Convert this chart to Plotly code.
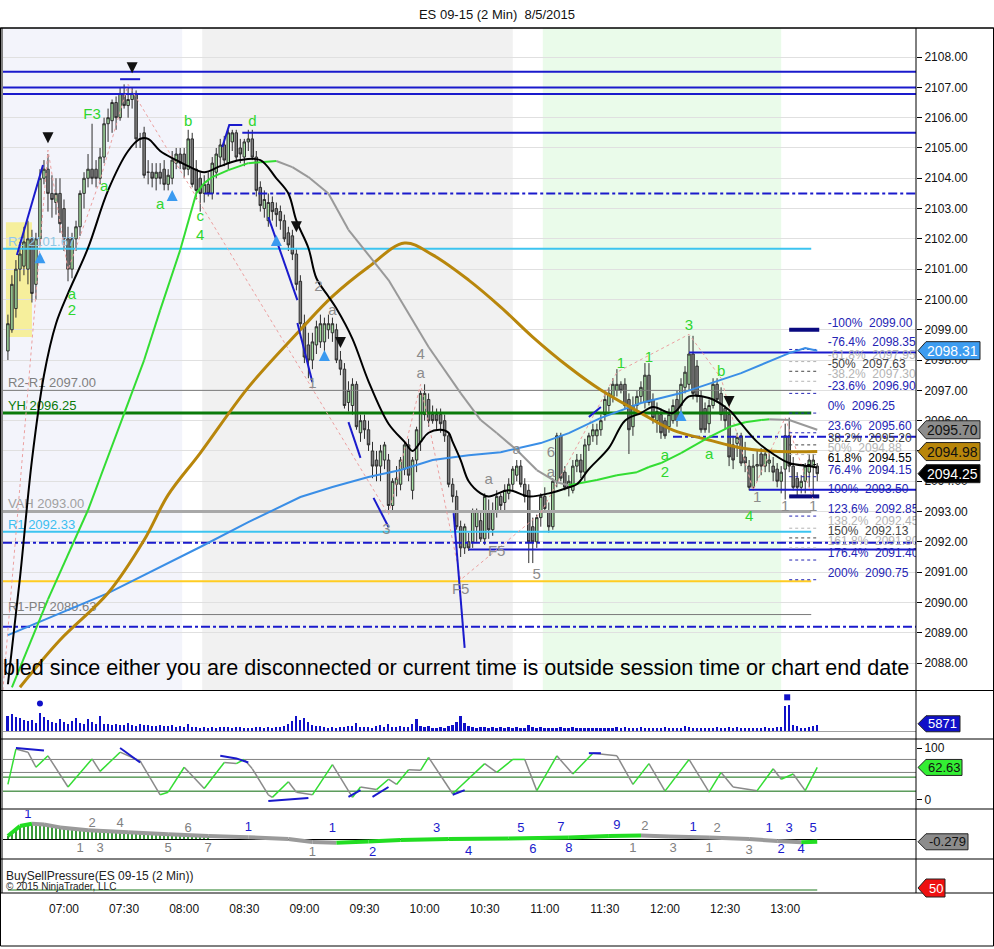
import plotly.graph_objects as go
from datetime import datetime, timedelta

# ---------------- data ----------------
opens = [2098.3,2099.0,2099.7,2101.0,2101.1,2101.0,2102.0,2100.5,2102.0,2104.0,
2104.3,2103.5,2103.2,2103.5,2103.0,2102.0,2101.0,2102.0,2102.4,2103.5,
2104.0,2104.3,2104.3,2104.0,2104.7,2105.8,2105.9,2106.5,2106.0,2106.8,
2106.4,2106.6,2106.8,2105.3,2105.5,2104.2,2104.2,2104.0,2104.2,2104.3,
2103.8,2104.0,2104.5,2104.8,2104.8,2104.3,2105.3,2104.3,2104.0,2103.5,
2103.8,2103.5,2104.2,2104.7,2105.1,2104.5,2105.2,2105.5,2105.0,2104.7,
2105.2,2105.3,2104.7,2103.7,2103.0,2102.6,2103.2,2103.0,2102.9,2102.6,
2102.2,2102.1,2101.5,2100.6,2099.2,2098.5,2098.0,2098.5,2098.6,2098.6,
2099.0,2098.9,2099.0,2098.0,2097.7,2096.6,2096.5,2097.2,2095.6,2096.0,
2095.7,2095.0,2094.7,2094.5,2094.7,2094.7,2093.2,2093.9,2093.9,2094.4,
2095.2,2093.7,2094.7,2095.3,2096.2,2096.7,2096.2,2096.2,2096.2,2096.0,
2095.5,2093.9,2093.5,2092.5,2091.8,2092.0,2092.0,2092.5,2092.7,2092.1,
2093.0,2092.4,2093.0,2093.5,2093.3,2093.6,2093.9,2094.2,2094.5,2093.9,
2093.7,2092.5,2092.0,2092.8,2093.5,2093.0,2092.5,2094.0,2095.5,2094.3,
2093.8,2093.7,2094.5,2094.7,2094.3,2095.2,2095.5,2095.5,2095.7,2096.2,
2096.5,2096.8,2097.0,2097.2,2097.2,2096.7,2095.8,2096.5,2096.8,2096.6,
2097.5,2096.7,2096.0,2096.2,2096.0,2095.8,2096.0,2096.7,2096.5,2097.1,
2097.2,2098.2,2097.8,2096.8,2096.4,2095.9,2096.5,2097.2,2096.9,2096.4,
2096.2,2095.2,2095.25,2095.5,2094.8,2094.5,2093.8,2094.5,2094.9,2094.5,
2094.6,2094.5,2094.4,2094.0,2094.4,2095.5,2094.5,2094.1,2093.8,2094.0,
2094.3,2094.5,2094.5]
highs = [2099.5,2100.8,2101.3,2101.9,2102.4,2102.6,2102.3,2102.2,2104.3,2104.6,
2104.8,2104.1,2104.0,2104.0,2103.3,2102.4,2102.2,2102.6,2103.6,2104.2,
2104.8,2105.8,2104.6,2105.0,2106.0,2106.3,2106.6,2106.7,2107.0,2107.1,
2107.0,2107.0,2106.9,2105.5,2105.7,2104.6,2104.5,2104.5,2104.5,2104.6,
2104.3,2104.9,2105.0,2105.0,2105.0,2105.6,2105.5,2104.6,2104.2,2104.1,
2104.2,2104.7,2105.0,2105.3,2105.4,2105.6,2105.6,2105.6,2105.3,2105.3,
2105.6,2105.6,2104.9,2103.9,2103.6,2103.5,2103.4,2103.2,2103.1,2102.8,
2102.4,2102.3,2101.7,2100.8,2099.5,2098.9,2098.9,2099.3,2099.5,2099.4,
2099.5,2099.4,2099.2,2098.3,2097.9,2097.3,2097.4,2097.3,2096.2,2096.2,
2096.0,2095.3,2095.0,2095.2,2095.3,2094.9,2094.1,2094.5,2094.8,2095.3,
2095.4,2094.8,2095.8,2097.0,2097.2,2096.9,2096.5,2096.4,2096.4,2096.2,
2095.6,2094.1,2093.7,2092.7,2092.6,2092.3,2093.1,2093.1,2093.0,2093.6,
2093.4,2093.3,2093.7,2093.6,2093.9,2094.1,2094.5,2094.7,2094.7,2094.1,
2093.9,2092.8,2092.9,2093.6,2093.8,2093.3,2094.1,2095.6,2095.6,2094.5,
2094.2,2094.7,2094.9,2094.9,2095.4,2095.6,2095.9,2095.9,2096.2,2096.9,
2097.1,2097.4,2097.7,2097.3,2097.4,2096.9,2096.8,2097.0,2097.3,2097.9,
2097.9,2096.9,2096.6,2096.4,2096.1,2096.4,2096.7,2097.0,2097.4,2097.8,
2098.8,2098.8,2098.0,2097.0,2096.6,2096.7,2097.4,2097.4,2097.1,2096.5,
2096.3,2095.5,2095.6,2095.6,2095.3,2094.7,2094.9,2095.0,2095.1,2095.1,
2095.0,2094.8,2094.6,2094.5,2095.9,2096.1,2094.8,2094.3,2094.2,2094.6,
2094.9,2094.9,2094.6]
lows = [2098.0,2098.9,2099.4,2100.6,2100.8,2100.5,2099.9,2100.0,2101.8,2103.8,
2102.9,2102.7,2102.8,2102.2,2101.6,2100.6,2100.7,2101.6,2102.1,2103.0,
2103.7,2103.8,2103.7,2103.8,2104.5,2105.2,2105.5,2105.6,2105.9,2106.3,
2106.0,2106.3,2105.0,2105.0,2104.0,2103.8,2103.7,2103.6,2103.8,2103.6,
2103.6,2103.8,2104.3,2104.3,2104.0,2104.1,2103.7,2103.3,2102.9,2103.2,
2103.4,2103.3,2104.0,2104.4,2104.4,2104.3,2104.9,2104.6,2104.5,2104.4,
2104.9,2104.6,2103.4,2102.9,2102.7,2102.4,2102.6,2102.4,2102.3,2101.9,
2101.6,2101.3,2100.3,2099.0,2097.9,2097.4,2097.7,2098.2,2098.4,2098.3,
2098.7,2098.6,2097.9,2097.5,2096.4,2096.3,2096.2,2095.7,2095.3,2095.4,
2095.0,2094.1,2094.0,2094.0,2094.4,2093.0,2093.0,2093.5,2093.7,2094.2,
2094.0,2093.4,2094.3,2095.0,2096.0,2095.8,2095.9,2095.7,2095.6,2095.3,
2093.8,2093.3,2092.4,2091.5,2091.6,2091.7,2091.8,2092.0,2092.0,2091.9,
2092.1,2092.2,2092.8,2093.0,2093.0,2093.4,2093.7,2094.0,2093.8,2093.3,
2091.3,2091.3,2091.8,2092.5,2093.0,2092.3,2092.4,2093.8,2094.0,2093.7,
2093.5,2093.6,2094.3,2094.1,2094.0,2095.0,2095.3,2095.2,2095.5,2096.0,
2096.3,2096.6,2096.8,2096.9,2096.4,2094.9,2095.5,2096.3,2096.6,2096.4,
2096.5,2095.9,2095.6,2095.4,2095.4,2095.6,2095.9,2095.8,2096.3,2096.9,
2097.0,2096.7,2096.6,2095.6,2095.6,2095.6,2096.4,2096.6,2096.0,2095.7,
2094.5,2094.4,2094.8,2094.5,2094.3,2093.7,2093.7,2094.0,2094.2,2094.3,
2094.3,2094.0,2093.8,2093.6,2093.4,2094.3,2093.7,2093.5,2093.6,2093.6,
2093.8,2093.5,2094.0]
closes = [2099.2,2100.5,2101.0,2101.5,2101.9,2102.0,2100.2,2102.0,2104.0,2104.3,
2103.5,2103.3,2103.5,2102.5,2102.0,2101.0,2102.0,2102.4,2103.5,2104.0,
2104.3,2104.0,2104.0,2104.7,2105.8,2106.0,2106.5,2106.0,2106.8,2106.4,
2106.6,2106.8,2105.3,2105.3,2104.1,2104.2,2104.0,2104.2,2104.0,2103.8,
2104.1,2104.6,2104.8,2104.5,2104.3,2105.3,2103.8,2103.6,2103.5,2103.8,
2103.5,2104.5,2104.8,2105.1,2104.6,2105.5,2105.5,2104.7,2104.8,2105.2,
2105.3,2104.7,2103.6,2103.1,2103.3,2103.2,2102.9,2102.8,2102.6,2102.0,
2101.8,2101.5,2100.5,2099.2,2098.1,2098.0,2098.6,2099.1,2099.2,2099.2,
2099.2,2099.2,2098.0,2097.7,2096.5,2097.0,2097.2,2095.8,2096.0,2095.7,
2095.2,2094.5,2094.5,2095.0,2095.2,2093.2,2094.0,2094.1,2094.7,2095.2,
2094.2,2094.7,2095.7,2096.9,2096.9,2096.0,2096.0,2096.0,2095.9,2095.5,
2093.9,2093.5,2092.5,2091.8,2092.5,2091.8,2093.0,2093.0,2092.1,2093.5,
2092.4,2093.0,2093.5,2093.2,2093.7,2093.9,2094.4,2094.5,2093.9,2093.5,
2092.0,2092.0,2092.8,2093.5,2093.1,2092.5,2094.0,2095.5,2094.1,2093.8,
2094.0,2094.5,2094.7,2094.3,2095.2,2095.5,2095.7,2095.7,2096.0,2096.7,
2096.9,2097.2,2097.2,2097.0,2096.5,2095.7,2096.5,2096.8,2097.1,2097.5,
2096.6,2096.1,2096.3,2095.6,2095.5,2096.2,2096.5,2096.0,2097.2,2097.6,
2098.2,2096.9,2096.8,2095.7,2095.7,2096.5,2097.2,2096.7,2096.2,2096.0,
2094.8,2094.7,2095.45,2094.6,2094.6,2093.8,2094.5,2094.55,2094.5,2094.9,
2094.7,2094.3,2094.0,2094.3,2095.5,2094.5,2093.8,2093.8,2094.0,2094.5,
2094.7,2094.7,2094.25]
volumes = [15000,16500,14000,12500,11000,9500,10500,7500,18000,13500,
10500,9000,7500,11500,8500,7000,9500,13000,8200,7200,
12000,8800,6500,15000,7000,6800,6000,6800,5600,6200,
7600,6200,5000,6400,5900,5400,5000,4700,5800,5100,
4600,6300,4100,4600,3900,6900,4300,3600,3100,3700,
3300,3600,3400,4200,3500,3800,3200,4100,3600,3000,
3400,3100,3900,3500,3300,3800,3000,3600,4200,5200,
6800,9500,14500,11000,12500,8800,6200,5000,4700,4000,
3300,3700,3100,4400,3600,4600,5100,7800,4300,3500,
3900,3200,4600,5600,3800,6500,4100,3700,4900,3900,
3600,6600,11500,5300,4000,4500,3300,3000,3700,3400,
4500,5500,8500,14500,7500,5200,3900,3300,3700,4100,
3200,3600,3000,4000,3400,3800,3200,4200,3000,3400,
5800,3700,3100,3600,3200,3300,2900,3400,3600,3100,
2800,3500,3200,2800,3000,3300,2900,3300,2700,3000,
3400,3000,4400,3200,3600,2900,3100,3300,3800,3100,
2800,3000,3300,3100,3600,2900,3200,3400,3000,4700,
3600,3300,3100,3000,3400,3200,2900,3700,3000,3300,
3800,3100,3600,3000,2800,3400,3200,3000,3100,3700,
3000,3300,3500,3900,24500,25000,6000,4500,3200,2800,
3500,5200,5871]

# indicator lines (bar index, value)
black_i = [0,3,6,9,12,15,20,25,30,33,35,38,42,45,49,53,58,63,67,70,72,75,77,80,82,86,90,95,99,101,
           103,105,108,110,111,113,115,118,120,125,130,135,140,142,145,150,154,158,161,166,170,175,180,183,187,191,195,200,202]
black_v = [2087.3,2090.8,2094.7,2097.5,2099.2,2100.2,2101.7,2103.6,2104.9,2105.3,2105.3,2104.9,2104.6,2104.4,2104.2,
           2104.4,2104.6,2104.6,2104.0,2103.5,2102.6,2101.7,2100.7,2100.1,2099.7,2098.7,2097.3,2095.9,2095.3,2095.0,
           2095.3,2095.6,2095.7,2095.6,2095.3,2094.7,2094.0,2093.6,2093.5,2093.7,2093.5,2093.6,2093.8,2093.9,2094.4,
           2095.1,2096.0,2096.25,2096.45,2096.25,2096.8,2096.75,2096.35,2095.9,2095.3,2094.9,2094.6,2094.5,2094.45]
med_i = [1,10,20,34,38,43,47,49,51,55,60,63,67,71,75,80,85,95,105,113,118,122,127,132,137,140,147,152,157,160,
         163,168,175,180,184,188,190,195,202]
med_v = [2087.2,2090.1,2093.05,2098.0,2099.65,2101.63,2103.5,2103.84,2104.04,2104.27,2104.5,2104.53,2104.57,2104.37,
         2104.04,2103.5,2102.3,2100.64,2098.43,2096.91,2096.02,2095.59,2095.03,2094.37,2093.97,2093.87,2094.04,2094.2,
         2094.3,2094.47,2094.6,2094.93,2095.46,2095.79,2095.95,2096.02,2096.05,2096.02,2095.70]
gold_i = [3,13,25,34,40,48,60,73,81,90,99,106,115,123,131,140,148,158,166,175,183,191,202]
gold_v = [2087.2,2088.76,2090.31,2092.06,2093.55,2094.93,2097.1,2099.0,2100.1,2101.07,2101.86,2101.47,2100.64,
          2099.75,2098.76,2097.77,2097.01,2096.25,2095.69,2095.36,2095.1,2094.99,2094.98]
lblue_i = [0,15,25,48,60,73,81,90,98,106,115,123,133,140,148,158,168,183,195,199,202]
lblue_v = [2088.92,2089.75,2090.31,2091.83,2092.65,2093.48,2093.81,2094.14,2094.37,2094.7,2094.86,2094.96,
           2095.26,2095.59,2096.09,2096.58,2096.91,2097.57,2098.23,2098.4,2098.31]

osc_i = [0,2,5,7,10,15,21,23,28,33,38,40,44,49,54,57,59,61,65,66,70,72,76,81,86,88,92,95,97,100,
         103,105,111,119,122,126,129,132,137,141,146,152,156,160,164,170,175,178,181,187,191,193,196,199,202]
osc_v = [30,98,92,63,85,25,79,55,92,75,10,15,63,22,72,70,78,60,10,5,35,15,10,68,5,25,20,40,30,58,
         57,82,12,70,53,78,78,18,85,50,90,85,30,70,17,78,15,53,25,18,60,40,50,18,62.63]
osc_levels = [78, 53, 44, 17]

macd_i = [0,3,6,9,13,20,30,40,50,60,70,76,82,90,98,110,125,140,150,158,165,175,185,192,198,202]
macd_v = [0.3,1.3,1.52,1.45,1.16,0.88,0.68,0.48,0.3,0.18,0.0,-0.3,-0.38,-0.25,-0.1,0.0,0.06,0.16,0.3,0.36,
          0.26,0.14,0.0,-0.2,-0.33,-0.279]
hist_vals = [0.3,0.8,1.1,1.3,1.45,1.5,1.52,1.5,1.48,1.45,1.4,1.33,1.25,1.16,1.1,1.05,1.0,0.96,0.93,0.9,
             0.88,0.86,0.84,0.82,0.8,0.78,0.76,0.74,0.72,0.7,0.68,0.66,0.64,0.62,0.6,0.58,0.56,0.54,0.52,0.5,
             0.48,0.46,0.44,0.42,0.4,0.38,0.36,0.34,0.32,0.3,0.28]
bsp_value = 50

fib_pcts = [-100,-76.4,-61.8,-50,-38.2,-23.6,0,23.6,38.2,50,61.8,76.4,100,123.6,138.2,150,161.8,176.4,200]
fib_levels = [2099.00,2098.35,2097.95,2097.63,2097.30,2096.90,2096.25,2095.60,2095.20,2094.88,2094.55,
              2094.15,2093.50,2092.85,2092.45,2092.13,2091.80,2091.40,2090.75]

level_prices = [2107.52,2107.00,2106.78,2105.50,2103.50,2101.67,2097.00,2096.25,2093.00,2092.33,2091.97,
                2091.75,2090.70,2089.60,2089.20,2098.25,2093.72,2095.47]
level_names = {2101.67: "R2 2101.67", 2097.00: "R2-R1 2097.00", 2096.25: "YH 2096.25",
               2093.00: "VAH 2093.00", 2092.33: "R1 2092.33", 2089.60: "R1-PP 2089.63"}

price_ticks = list(range(2088, 2109))
hidden_price_ticks = [2095]          # fully covered by the price tags in the reference
time_ticks = ["07:00","07:30","08:00","08:30","09:00","09:30","10:00","10:30","11:00","11:30","12:00","12:30","13:00"]

green_labels = [("F3",21,2106.09),("a",24,2103.71),("a",16,2100.15),("2",16,2099.62),("a",38,2103.12),
                ("b",45,2105.85),("c",48,2102.72),("4",48,2102.09),("d",61,2105.85),("1",153,2097.87),
                ("1",160,2098.07),("3",170,2099.12),("b",178,2097.6),("a",164,2094.83),("2",164,2094.27),
                ("a",175,2094.86),("4",185,2092.82)]
gray_labels = [("2",77.5,2100.41),("a",81,2099.62),("1",76,2097.2),("4",103,2098.16),("a",103,2097.54),
               ("3",94.5,2092.39),("a",120,2094.04),("a",127,2095.03),("6",135.5,2094.93),("a",135.5,2094.27),
               ("F5",113,2090.41),("F5",122,2091.66),("5",132,2090.9),("1",187,2093.45),("1",194,2093.15),
               ("1",201,2093.15)]
trend_lines = [[(2.25,2101.47),(8.75,2104.44)],
               [(53.5,2105.03),(55.25,2105.76),(58.5,2105.76)],
               [(65,2102.72),(72.25,2099.98)],
               [(72.25,2099.22),(76,2097.27)],
               [(85,2095.95),(88,2094.77)],
               [(91.25,2093.45),(95,2092.49)],
               [(111.25,2092.95),(114,2088.5)],
               [(145,2096.12),(148,2096.45)],
               [(28,2107.27),(33,2107.27)]]
zigzag = [(-1.25,2087.1),(10,2104.93),(15,2100.97),(23,2103.94),(30,2107.1),(95,2092.9),(103,2097.2),
          (113,2090.75),(133,2092.95),(152,2097.6),(170,2098.85),(178,2097.4),(186,2093.7),(194,2096.1),(201,2093.4)]
down_arrows = [(10,2105.16),(31,2107.47),(72,2102.22),(83,2098.4),(180,2096.45)]
up_arrows = [(8,2101.56),(41,2103.61),(67,2102.13),(79,2098.33),(168,2096.35)]
osc_div = [[(2,100),(9,95)],[(28,100),(33,72)],[(53,85),(57,80),(60,72)],[(65,-2),(75,4)],
           [(85,6),(88,19)],[(91,6),(95,25)],[(111,10),(114,19)],[(145,90),(148,90)]]
macd_labels_up = [("1",5,2.4,"b"),("2",21,1.5,"g"),("4",28,1.5,"g"),("6",45,1.0,"g"),("1",60,1.1,"b"),
                  ("1",81,1.0,"b"),("3",107,1.0,"b"),("5",128,1.0,"b"),("7",138,1.1,"b"),("9",152,1.3,"b"),
                  ("2",159,1.2,"g"),("1",171,1.1,"b"),("2",177,1.0,"g"),("1",190,1.0,"b"),("3",195,1.0,"b"),
                  ("5",201,1.0,"b")]
macd_labels_dn = [("1",18,-1.0,"g"),("3",23,-1.0,"g"),("5",40,-1.0,"g"),("7",50,-1.0,"g"),("1",76,-1.4,"g"),
                  ("2",91,-1.4,"b"),("4",115,-1.3,"b"),("6",131,-1.1,"b"),("8",140,-1.0,"b"),("1",156,-1.0,"g"),
                  ("3",166,-1.0,"g"),("1",175,-1.0,"g"),("3",185,-1.2,"g"),("2",193,-1.1,"b"),("4",198,-1.1,"b")]

# ---------------- helpers ----------------
T0 = datetime(2015, 8, 5, 6, 32)
def bt(i):
    return T0 + timedelta(minutes=2 * i)

X_LEFT = datetime(2015, 8, 5, 6, 29, 33)
X_RIGHT = datetime(2015, 8, 5, 14, 5, 18)
FONT = "Liberation Sans, Arial, sans-serif"
GREEN = "#33dd33"
GRAY = "#999999"
BLUE = "#1a1acc"

n = len(closes)
times = [bt(i) for i in range(n)]

fig = go.Figure()
shapes = []
annotations = []

def slope_colored(xs_i, vs, yaxis, width, up_col, dn_col):
    gx, gy, rx, ry = [], [], [], []
    for k in range(len(xs_i) - 1):
        seg_x = [bt(xs_i[k]), bt(xs_i[k + 1]), None]
        seg_y = [vs[k], vs[k + 1], None]
        if vs[k + 1] >= vs[k]:
            gx += seg_x; gy += seg_y
        else:
            rx += seg_x; ry += seg_y
    fig.add_trace(go.Scatter(x=rx, y=ry, mode="lines", line=dict(color=dn_col, width=width),
                             yaxis=yaxis, hoverinfo="skip"))
    fig.add_trace(go.Scatter(x=gx, y=gy, mode="lines", line=dict(color=up_col, width=width),
                             yaxis=yaxis, hoverinfo="skip"))

# ---------------- main panel ----------------
bands = [(X_LEFT, datetime(2015, 8, 5, 7, 59), "#f3f4fb"),
         (datetime(2015, 8, 5, 8, 9), datetime(2015, 8, 5, 10, 44), "#f1f1f1"),
         (datetime(2015, 8, 5, 10, 59), datetime(2015, 8, 5, 12, 58), "#eafbea")]
for a, b, c in bands:
    shapes.append(dict(type="rect", xref="x", yref="y domain", x0=a, x1=b, y0=0, y1=1,
                       fillcolor=c, line=dict(width=0), layer="below"))
shapes.append(dict(type="rect", xref="x", yref="y", x0=bt(-0.5), x1=bt(6), y0=2098.76, y1=2102.55,
                   fillcolor="#f6ef9c", line=dict(width=0), layer="below"))

level_style = {
    2107.52: (BLUE, 2, "solid", None, None), 2107.00: (BLUE, 2, "solid", None, None),
    2106.78: (BLUE, 2, "solid", None, None), 2105.50: (BLUE, 2, "solid", 58.5, None),
    2103.50: (BLUE, 2, "dashdot", 49, None), 2101.67: ("#3cc4f0", 2, "solid", None, 200.5),
    2097.00: ("#7a7a7a", 1, "solid", None, 200.5), 2096.25: ("#0a7a0a", 3, "solid", None, 200.5),
    2093.00: ("#a8a8a8", 3, "solid", None, 200.5), 2092.33: ("#3cc4f0", 2, "solid", None, 200.5),
    2091.97: (BLUE, 2, "dashdot", None, None), 2091.75: (BLUE, 2, "solid", 115, None),
    2090.70: ("#ffcc22", 2, "solid", None, 200.5), 2089.60: ("#7a7a7a", 1, "solid", None, 200.5),
    2089.20: (BLUE, 2, "dashdot", None, None), 2098.25: (BLUE, 2, "solid", 170, None),
    2093.72: (BLUE, 2, "solid", 185, None), 2095.47: (BLUE, 2, "dashdot", 166, None),
}
for p in level_prices:
    col, w, dash, s, e = level_style[p]
    x0 = X_LEFT if s is None else bt(s)
    x1 = X_RIGHT if e is None else bt(e)
    fig.add_trace(go.Scatter(x=[x0, x1], y=[p, p], mode="lines", line=dict(color=col, width=w, dash=dash),
                             yaxis="y", hoverinfo="skip"))

lab_col = {2101.67: "#8fc8e6", 2097.00: "#808080", 2096.25: "#0a7a0a", 2093.00: "#a0a0a0",
           2092.33: "#3cbef0", 2089.60: "#808080"}
for p, t in level_names.items():
    fig.add_trace(go.Scatter(x=[bt(0)], y=[p], mode="text", text=[t], textposition="top right",
                             textfont=dict(family=FONT, size=13, color=lab_col[p]), yaxis="y", hoverinfo="skip"))

fib_col = {}
for pc in fib_pcts:
    if pc in (-61.8, -38.2, 50, 138.2, 161.8):
        fib_col[pc] = "#b4b4b4"
    elif pc in (-50, 38.2, 150):
        fib_col[pc] = "#444444"
    elif pc == 61.8:
        fib_col[pc] = "#000000"
    else:
        fib_col[pc] = "#2424b4"
for pc, lv in zip(fib_pcts, fib_levels):
    fig.add_trace(go.Scatter(x=[bt(195), bt(202.5)], y=[lv, lv], mode="lines",
                             line=dict(color=fib_col[pc], width=1, dash="dot"), yaxis="y", hoverinfo="skip"))
for lv in (fib_levels[0], fib_levels[12]):
    fig.add_trace(go.Scatter(x=[bt(195), bt(202.5)], y=[lv, lv], mode="lines",
                             line=dict(color="#0a0a80", width=4), yaxis="y", hoverinfo="skip"))
fig.add_trace(go.Scatter(x=[bt(204.6)] * len(fib_levels), y=fib_levels, mode="text",
                         text=[f"{pc:g}%  {lv:.2f}" for pc, lv in zip(fib_pcts, fib_levels)],
                         textposition="top right",
                         textfont=dict(family=FONT, size=12, color=[fib_col[pc] for pc in fib_pcts]),
                         yaxis="y", hoverinfo="skip", cliponaxis=True))

fig.add_trace(go.Scatter(x=[bt(a) for a, b in zigzag], y=[b for a, b in zigzag], mode="lines",
                         line=dict(color="#eca0a0", width=1, dash="dot"), yaxis="y", hoverinfo="skip"))

fig.add_trace(go.Candlestick(x=times, open=opens, high=highs, low=lows, close=closes,
                             increasing=dict(line=dict(color="#2e2e2e", width=1), fillcolor="#a3dea0"),
                             decreasing=dict(line=dict(color="#2e2e2e", width=1), fillcolor="#7f7f7f"),
                             whiskerwidth=0, yaxis="y", hoverinfo="skip"))

fig.add_trace(go.Scatter(x=[bt(i) for i in lblue_i], y=lblue_v, mode="lines",
                         line=dict(color="#3a8ee6", width=2), yaxis="y", hoverinfo="skip"))
fig.add_trace(go.Scatter(x=[bt(i) for i in gold_i], y=gold_v, mode="lines", line_shape="spline",
                         line=dict(color="#b8860b", width=3), yaxis="y", hoverinfo="skip"))
slope_colored(med_i, med_v, "y", 2, GREEN, GRAY)
fig.add_trace(go.Scatter(x=[bt(i) for i in black_i], y=black_v, mode="lines", line_shape="spline",
                         line=dict(color="#000000", width=2), yaxis="y", hoverinfo="skip"))

for tl in trend_lines:
    fig.add_trace(go.Scatter(x=[bt(a) for a, b in tl], y=[b for a, b in tl], mode="lines",
                             line=dict(color=BLUE, width=2), yaxis="y", hoverinfo="skip"))

fig.add_trace(go.Scatter(x=[bt(a) for a, b in down_arrows], y=[b for a, b in down_arrows], mode="markers",
                         marker=dict(symbol="arrow-down", size=11, color="#111111"), yaxis="y", hoverinfo="skip"))
fig.add_trace(go.Scatter(x=[bt(a) for a, b in up_arrows], y=[b for a, b in up_arrows], mode="markers",
                         marker=dict(symbol="arrow-up", size=11, color="#3a9af0"), yaxis="y", hoverinfo="skip"))

fig.add_trace(go.Scatter(x=[bt(a) for t, a, b in green_labels], y=[b for t, a, b in green_labels],
                         mode="text", text=[t for t, a, b in green_labels],
                         textfont=dict(family=FONT, size=15, color="#2fd62f"), yaxis="y", hoverinfo="skip"))
fig.add_trace(go.Scatter(x=[bt(a) for t, a, b in gray_labels], y=[b for t, a, b in gray_labels],
                         mode="text", text=[t for t, a, b in gray_labels],
                         textfont=dict(family=FONT, size=15, color="#8c8c8c"), yaxis="y", hoverinfo="skip"))

# ---------------- volume panel ----------------
fig.add_trace(go.Bar(x=times, y=volumes, marker=dict(color="#1010c8", line=dict(width=0)),
                     width=55000, yaxis="y2", hoverinfo="skip"))
fig.add_trace(go.Scatter(x=[bt(8)], y=[27000], mode="markers", marker=dict(symbol="circle", size=6, color="#1010c8"),
                         yaxis="y2", hoverinfo="skip"))
fig.add_trace(go.Scatter(x=[bt(194.5)], y=[33000], mode="markers", marker=dict(symbol="square", size=6, color="#1010c8"),
                         yaxis="y2", hoverinfo="skip"))

# ---------------- oscillator panel ----------------
osc_cols = ["#808080", "#808080", "#0a6a0a", "#0a6a0a"]
for lv, c in zip(osc_levels, osc_cols):
    fig.add_trace(go.Scatter(x=[X_LEFT, X_RIGHT], y=[lv, lv], mode="lines", line=dict(color=c, width=1),
                             yaxis="y3", hoverinfo="skip"))
slope_colored(osc_i, osc_v, "y3", 1.5, GREEN, "#8a8a8a")
for seg in osc_div:
    fig.add_trace(go.Scatter(x=[bt(a) for a, b in seg], y=[b for a, b in seg], mode="lines",
                             line=dict(color=BLUE, width=2), yaxis="y3", hoverinfo="skip"))

# ---------------- macd panel ----------------
fig.add_trace(go.Bar(x=[bt(i) for i in range(len(hist_vals))], y=hist_vals,
                     marker=dict(color="#3a9a3a", line=dict(width=0)), width=30000, yaxis="y4", hoverinfo="skip"))
slope_colored(macd_i, macd_v, "y4", 4, "#22dd22", "#9a9a9a")
for lbls in (macd_labels_up, macd_labels_dn):
    fig.add_trace(go.Scatter(x=[bt(a) for t, a, b, c in lbls], y=[b for t, a, b, c in lbls], mode="text",
                             text=[t for t, a, b, c in lbls],
                             textfont=dict(family=FONT, size=13,
                                           color=["#1a1acc" if c == "b" else "#808080" for t, a, b, c in lbls]),
                             yaxis="y4", hoverinfo="skip"))

# ---------------- buy/sell pressure panel ----------------
fig.add_trace(go.Scatter(x=[bt(0), bt(202)], y=[bsp_value, bsp_value], mode="lines",
                         line=dict(color="#1f7a1f", width=1), yaxis="y5", hoverinfo="skip"))

# ---------------- frame / separators ----------------
def px_y(p):
    return (893 - p) / 865.0
def px_x(p):
    return (p - 3) / 913.0

for yy in (28, 690.5, 739, 809, 859, 893):
    shapes.append(dict(type="line", xref="paper", yref="paper", x0=px_x(0), x1=px_x(994), y0=px_y(yy), y1=px_y(yy),
                       line=dict(color="#000000", width=1), layer="above"))
shapes.append(dict(type="line", xref="paper", yref="paper", x0=1, x1=1, y0=0, y1=1,
                   line=dict(color="#000000", width=1), layer="above"))
shapes.append(dict(type="line", xref="paper", yref="paper", x0=px_x(2), x1=px_x(2), y0=0, y1=1,
                   line=dict(color="#000000", width=1), layer="above"))
shapes.append(dict(type="rect", xref="paper", yref="paper", x0=px_x(0.5), x1=px_x(993.5), y0=px_y(946), y1=1,
                   line=dict(color="#000000", width=1), fillcolor="rgba(0,0,0,0)", layer="above"))

def tag(yref, v, ppu, fill, text, fcolor, right_px=980, hpx=9, size=14):
    h = hpx / ppu
    xt, xb, xr = px_x(918), px_x(926), px_x(right_px)
    path = f"M {xt},{v} L {xb},{v + h} L {xr},{v + h} L {xr},{v - h} L {xb},{v - h} Z"
    shapes.append(dict(type="path", xref="paper", yref=yref, path=path, fillcolor=fill,
                       line=dict(color="#222222", width=1), layer="above"))
    annotations.append(dict(xref="paper", yref=yref, x=(xb + xr) / 2, y=v, text=text, showarrow=False,
                            xanchor="center", yanchor="middle", font=dict(family=FONT, size=size, color=fcolor)))

tag("y", lblue_v[-1], 30.3, "#3d9cf0", f"{lblue_v[-1]:.2f}", "#ffffff")
tag("y", med_v[-1], 30.3, "#8c8c8c", f"{med_v[-1]:.2f}", "#111111")
tag("y", gold_v[-1], 30.3, "#b8860b", f"{gold_v[-1]:.2f}", "#111111")
tag("y", closes[-1], 30.3, "#000000", f"{closes[-1]:.2f}", "#ffffff")
tag("y2", volumes[-1] + 1200, 1 / 980.0, "#1010c8", f"{volumes[-1]}", "#ffffff", right_px=960, hpx=8, size=13)
tag("y3", osc_v[-1], 0.52, "#33ee33", f"{osc_v[-1]:.2f}", "#111111", right_px=962, hpx=8, size=13)
tag("y4", macd_v[-1], 10.0, "#8c8c8c", f"{macd_v[-1]:.3f}", "#111111", right_px=968, hpx=8, size=13)
# BSP tag sits at the panel's bottom edge, so place it in paper space (not clipped by the y5 range)
tag("paper", px_y(888), 865.0, "#ee1111", f"{bsp_value}", "#ffffff", right_px=945, hpx=9, size=13)

annotations.append(dict(xref="paper", yref="paper", x=px_x(911), y=px_y(667), xanchor="right", yanchor="middle",
                        showarrow=False,
                        text="bled since either you are disconnected or current time is outside session time or chart end date",
                        font=dict(family=FONT, size=21.6, color="#000000")))
annotations.append(dict(xref="paper", yref="paper", x=px_x(4), y=px_y(876), xanchor="left", yanchor="middle",
                        showarrow=False, text="BuySellPressure(ES 09-15 (2 Min))",
                        font=dict(family=FONT, size=12, color="#222222")))
annotations.append(dict(xref="paper", yref="paper", x=px_x(4), y=px_y(886), xanchor="left", yanchor="middle",
                        showarrow=False, text="© 2015 NinjaTrader, LLC",
                        font=dict(family=FONT, size=10, color="#222222")))

axis_font = dict(family=FONT, size=12, color="#111111")
fig.update_layout(
    width=994, height=949,
    margin=dict(l=3, r=78, t=28, b=56, pad=0, autoexpand=False),
    paper_bgcolor="white", plot_bgcolor="white",
    showlegend=False, hovermode=False, bargap=0, boxgap=0.12,
    title=dict(text="ES 09-15 (2 Min)  8/5/2015", x=0.5, xref="container", y=1 - 14 / 949.0, yref="container",
               xanchor="center", yanchor="middle", automargin=False,
               font=dict(family=FONT, size=13, color="#111111")),
    xaxis=dict(type="date", range=[X_LEFT, X_RIGHT], anchor="y5", showgrid=False, zeroline=False,
               tickvals=[f"2015-08-05 {t}" for t in time_ticks], ticktext=time_ticks, tickfont=axis_font,
               rangeslider=dict(visible=False), showline=False, ticks="outside", ticklen=5,
               tickcolor="rgba(0,0,0,0)", automargin=False),
    yaxis=dict(domain=[px_y(690), 1], range=[2087.11, 2108.96], side="right", anchor="x",
               tickvals=price_ticks,
               ticktext=["" if v in hidden_price_ticks else f"{v}.00" for v in price_ticks],
               ticks="outside", ticklen=5, tickcolor="#000", showgrid=True, gridcolor="#e0e0e0",
               zeroline=False, tickfont=axis_font, showline=False, automargin=False),
    yaxis2=dict(domain=[px_y(738), px_y(692)], range=[-6860, 38200], side="right", anchor="x",
                showticklabels=False, ticks="", showgrid=False, zeroline=True, zerolinecolor="#a0a0a0",
                zerolinewidth=1, automargin=False),
    yaxis3=dict(domain=[px_y(808), px_y(740)], range=[-15.4, 115.4], side="right", anchor="x",
                tickvals=[0, 100], ticks="outside", ticklen=5, tickcolor="#000", showgrid=False, zeroline=False,
                tickfont=axis_font, automargin=False),
    yaxis4=dict(domain=[px_y(858), px_y(810)], range=[-1.9, 2.9], side="right", anchor="x",
                showticklabels=False, ticks="", showgrid=False, zeroline=True, zerolinecolor="#000000",
                zerolinewidth=1, automargin=False),
    yaxis5=dict(domain=[0, px_y(860)], range=[49, 60], side="right", anchor="x",
                showticklabels=False, ticks="", showgrid=False, zeroline=False, automargin=False),
    shapes=shapes, annotations=annotations,
)

# the page's default 8px body margin would shift the chart; remove it
fig.write_html("out.html", config={"displayModeBar": False},
               post_script="document.body.style.margin='0';document.body.style.overflow='hidden';")
